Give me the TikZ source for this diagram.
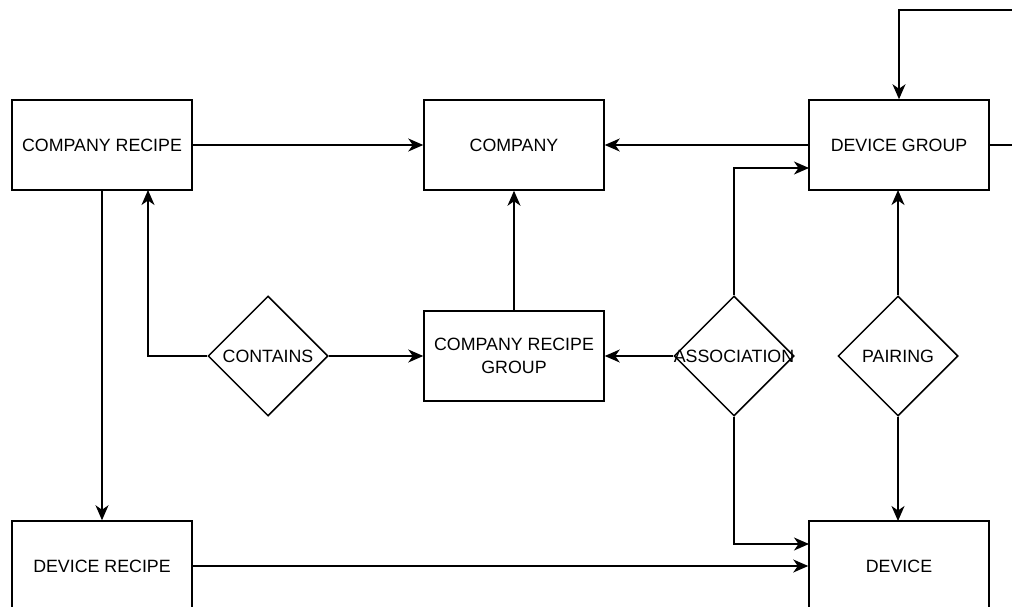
\documentclass[tikz,border=0pt]{standalone}
\usepackage{fontspec}
\setmainfont{Liberation Sans}
\usetikzlibrary{shapes.geometric,arrows.meta}
\begin{document}
\begin{tikzpicture}[x=1pt,y=-1pt,
  every node/.style={font=\fontsize{17.8pt}{23pt}\selectfont},
  entity/.style={draw, line width=1.5pt, minimum width=180pt, minimum height=90pt, inner sep=0pt, align=center},
  relation/.style={draw, diamond, line width=1.5pt, minimum width=120pt, minimum height=120pt, inner sep=0pt, aspect=1},
  link/.style={line width=1.5pt, -{Stealth[length=15pt, width=13pt, inset=4.5pt]}},
  plain/.style={line width=1.5pt}]
\useasboundingbox (0,0) rectangle (1012,607);
\begin{scope}
\clip (0,0) rectangle (1012,607);
% entities
\node[entity] (crecipe) at (102,145) {COMPANY RECIPE};
\node[entity] (company) at (514,145) {COMPANY};
\node[entity] (dgroup) at (899,145) {DEVICE GROUP};
\node[entity] (crgroup) at (514,356) {COMPANY RECIPE\\GROUP};
\node[entity] (drecipe) at (102,566) {DEVICE RECIPE};
\node[entity] (device) at (899,566) {DEVICE};
% relations
\node[relation] (contains) at (268,356) {};
\node at (268,356) {CONTAINS};
\node[relation] (assoc) at (734,356) {};
\node at (734,356) {ASSOCIATION};
\node[relation] (pairing) at (898,356) {};
\node at (898,356) {PAIRING};
% loop anchor points
\coordinate (loopR) at (1040,145);
\coordinate (loopT) at (1040,10);
% connectors
\draw[link] (crecipe.east) -- (company.west);
\draw[link] (dgroup.west) -- (company.east);
\draw[link] (crgroup.north) -- (company.south);
\draw[link] (crecipe.south) -- (drecipe.north);
\draw[link] (contains.west) -- (148,356) -- (148,190);
\draw[link] (contains.east) -- (crgroup.west);
\draw[link] (assoc.west) -- (crgroup.east);
\draw[link] (assoc.north) |- (809,168);
\draw[link] (assoc.south) |- (809,544);
\draw[link] (drecipe.east |- 0,566) -- (device.west |- 0,566);
\draw[link] (pairing.north) -- (898,190);
\draw[link] (pairing.south) -- (898,521);
\draw[link] (dgroup.east) -- (loopR) -- (loopT) -| (dgroup.north);
\end{scope}
\end{tikzpicture}
\end{document}
